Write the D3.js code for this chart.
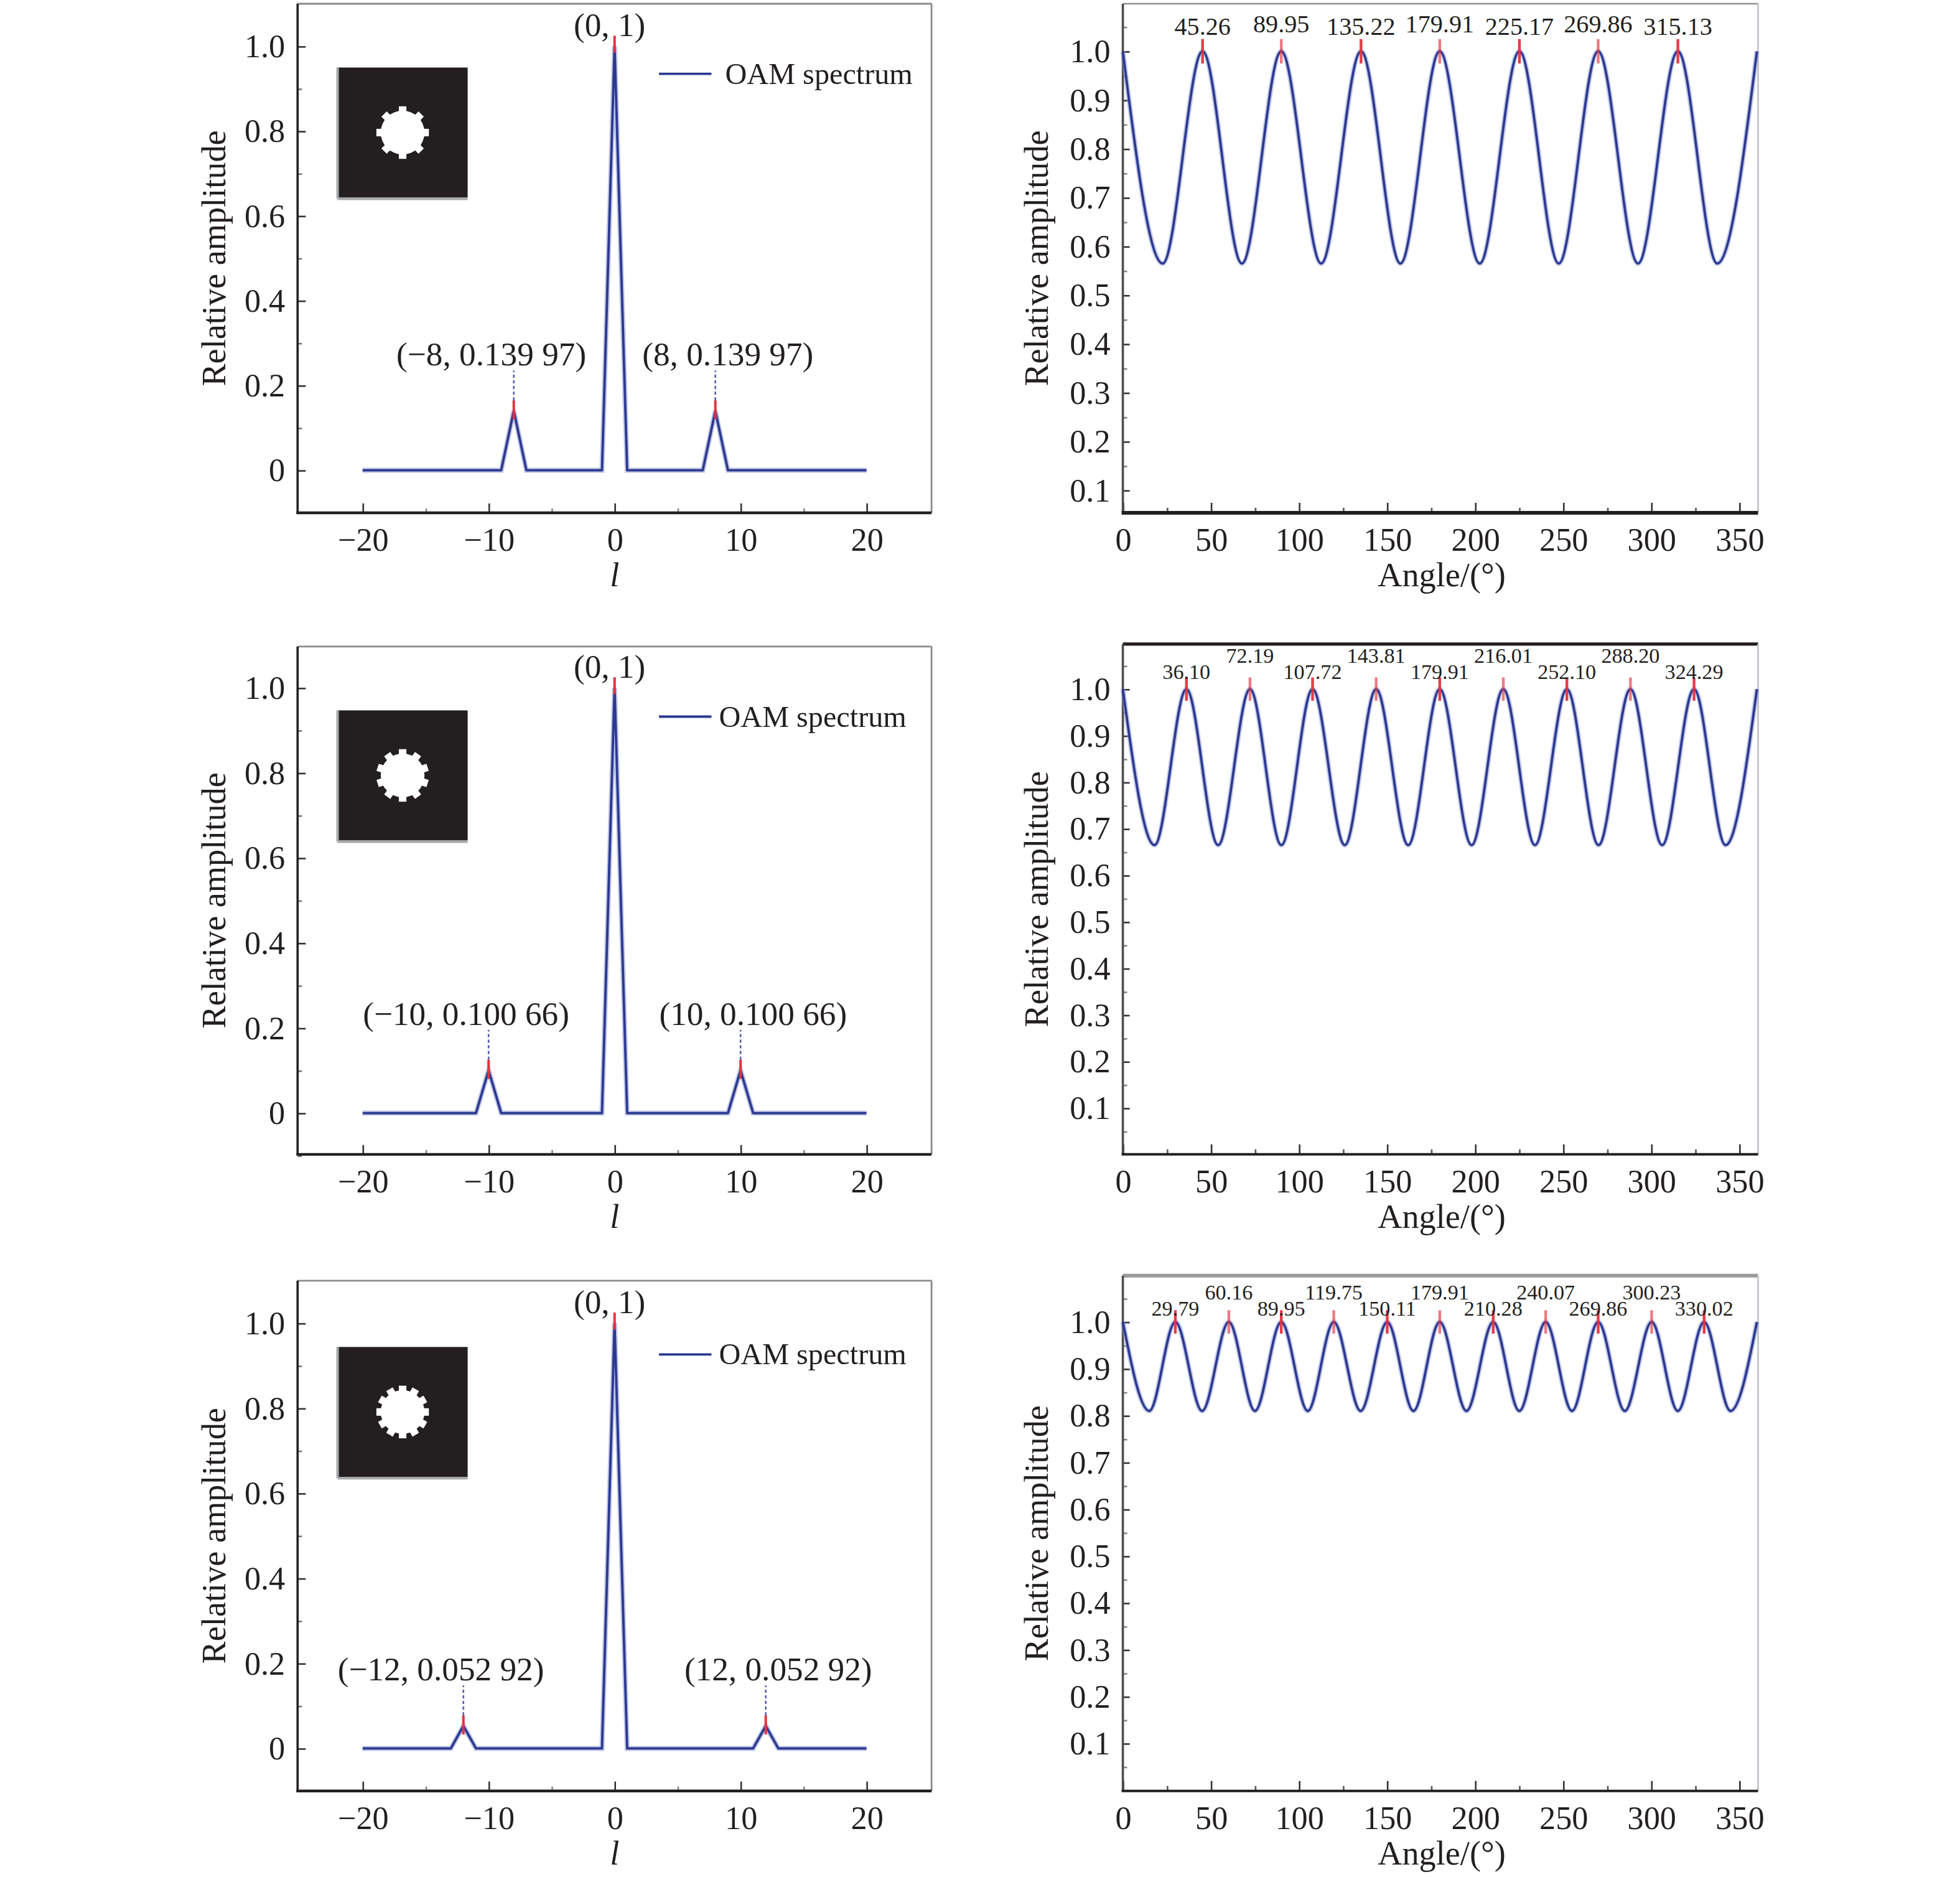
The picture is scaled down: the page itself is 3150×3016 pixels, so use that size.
<!DOCTYPE html>
<html>
<head>
<meta charset="utf-8">
<script src="https://cdn.jsdelivr.net/npm/d3@7/dist/d3.min.js"></script>
<style>
  body { margin: 0; background: #fff; }
  svg { display: block; }
  text { font-family: "Liberation Serif", "Times New Roman", serif; fill: #231f20; }
</style>
</head>
<body>
<svg id="chart"></svg>
<script>
// ---- data ----
const orders = d3.range(-20, 21); // l = -20 .. 20

// OAM spectra (relative amplitude per order l)
const spec8 = [0,0,0,0,0,0,0,0,0,0, 0,0,0.13997,0,0,0,0,0,0,0, 1, 0,0,0,0,0,0,0,0.13997,0,0, 0,0,0,0,0,0,0,0,0,0];
const spec10 = [0,0,0,0,0,0,0,0,0,0, 0.10066,0,0,0,0,0,0,0,0,0, 1, 0,0,0,0,0,0,0,0,0,0.10066, 0,0,0,0,0,0,0,0,0,0];
const spec12 = [0,0,0,0,0,0,0,0,0.05292,0, 0,0,0,0,0,0,0,0,0,0, 1, 0,0,0,0,0,0,0,0,0,0, 0,0.05292,0,0,0,0,0,0,0,0];

// angular amplitude: peak angles (amplitude 1.0) and trough angles
const peaks8 = [0, 45.26, 89.95, 135.22, 179.91, 225.17, 269.86, 315.13, 360];
const troughs8 = [22.6, 67.6, 112.6, 157.6, 202.6, 247.5, 292.5, 337.5];
const troughAmp8 = 0.565;

const peaks10 = [0, 36.10, 72.19, 107.72, 143.81, 179.91, 216.01, 252.10, 288.20, 324.29, 360];
const troughs10 = [18.0, 54.1, 90.0, 126.0, 162.0, 198.0, 234.0, 270.1, 306.2, 342.2];
const troughAmp10 = 0.665;

const peaks12 = [0, 29.79, 60.16, 89.95, 119.75, 150.11, 179.91, 210.28, 240.07, 269.86, 300.23, 330.02, 360];
const troughs12 = [15.0, 45.0, 75.0, 105.0, 135.0, 165.0, 195.1, 225.1, 255.0, 285.0, 315.1, 345.0];
const troughAmp12 = 0.81;
const peakAmp = 1.0;

const lTicks = [-20, -10, 0, 10, 20];
const angleTicks = [0, 50, 100, 150, 200, 250, 300, 350];

// ---- layout (figure units, scaled up by the viewBox) ----
const W = 1567.5, H = 1500.8;
const rows = [
  { spec: spec8, peaks: peaks8, troughs: troughs8, tAmp: troughAmp8,
    lTop: 3, lBot: 410, lY0: 376, lY1: 37,
    rTop: 3, rBot: 410, rY01: 392, rY10: 41,
    lift: [13, 15], peakFont: 20, topCol: "#8f8f8f", topW: 1.2, botW: 3 },
  { spec: spec10, peaks: peaks10, troughs: troughs10, tAmp: troughAmp10,
    lTop: 517, lBot: 923, lY0: 890, lY1: 550,
    rTop: 515, rBot: 923, rY01: 886, rY10: 551,
    lift: [8, 21], peakFont: 17, topCol: "#231f20", topW: 2.6, botW: 2 },
  { spec: spec12, peaks: peaks12, troughs: troughs12, tAmp: troughAmp12,
    lTop: 1024, lBot: 1432, lY0: 1398, lY1: 1058,
    rTop: 1020, rBot: 1432, rY01: 1394, rY10: 1057,
    lift: [5, 18], peakFont: 17, topCol: "#9b9b9b", topW: 3, botW: 2 }
];
const L = { x0: 238, x1: 745, xa: 290, xb: 693 };
const R = { x0: 898, x1: 1406, xb: 1391 };

const blue = "#2b3990", halo = "#8e97d1", red = "#e5323f", ink = "#231f20";

const svg = d3.select("#chart")
  .attr("width", 3150).attr("height", 3016)
  .attr("viewBox", [0, 0, W, H])
  .attr("preserveAspectRatio", "none");

const fmtAmp = v => {
  if (v === 1) return "1";
  const s = d3.format(".5f")(v);
  return s.slice(0, 5) + " " + s.slice(5);
};
const fmtL = d3.format("d");

function styleAxis(g, col) {
  g.select(".domain").remove();
  g.selectAll(".tick line").attr("stroke", col).attr("stroke-width", 1.3);
  g.selectAll(".tick text").attr("font-size", 26).style("font-family", "Liberation Serif, serif").attr("fill", ink);
}

function frame(g, x0, x1, top, bot, opts) {
  g.append("line").attr("x1", x0).attr("x2", x1).attr("y1", top).attr("y2", top)
    .attr("stroke", opts.topCol).attr("stroke-width", opts.topW);
  g.append("line").attr("x1", x1).attr("x2", x1).attr("y1", top).attr("y2", bot)
    .attr("stroke", opts.rightCol).attr("stroke-width", 1.4);
  g.append("line").attr("x1", x0).attr("x2", x0).attr("y1", top).attr("y2", bot)
    .attr("stroke", opts.leftCol).attr("stroke-width", 1.8);
  g.append("line").attr("x1", x0 - 1).attr("x2", x1).attr("y1", bot).attr("y2", bot)
    .attr("stroke", ink).attr("stroke-width", opts.botW);
}

rows.forEach((r, ri) => {
  // ================= left: OAM spectrum =================
  const gl = svg.append("g");
  const x = d3.scaleLinear([-20, 20], [L.xa, L.xb]);
  const y = d3.scaleLinear([0, 1], [r.lY0, r.lY1]);

  gl.append("g").attr("transform", `translate(${L.x0},0)`)
    .call(d3.axisLeft(y).tickValues([-0.1, 0.1, 0.3, 0.5, 0.7, 0.9]).tickSize(-3.5).tickFormat(""))
    .call(g => styleAxis(g, "#777"));
  gl.append("g").attr("transform", `translate(${L.x0},0)`)
    .call(d3.axisLeft(y).tickValues([0, 0.2, 0.4, 0.6, 0.8, 1.0]).tickSize(-6.5).tickPadding(10)
      .tickFormat(d => d === 0 ? "0" : d3.format(".1f")(d)))
    .call(g => styleAxis(g, "#333"));
  gl.append("g").attr("transform", `translate(0,${r.lBot})`)
    .call(d3.axisBottom(x).tickValues([-15, -5, 5, 15]).tickSize(-3.5).tickFormat(""))
    .call(g => styleAxis(g, "#888"));
  gl.append("g").attr("transform", `translate(0,${r.lBot})`)
    .call(d3.axisBottom(x).tickValues(lTicks).tickSize(-7.5).tickPadding(12))
    .call(g => styleAxis(g, "#333"));

  frame(gl, L.x0, L.x1, r.lTop, r.lBot,
    { topCol: "#8a8a8a", topW: 1.4, rightCol: "#8a8a8a", leftCol: ink, botW: 2.2 });

  // inset: binary mask of the aperture
  const order = orders.find((l, i) => l > 0 && r.spec[i] > 0);
  const ix = 270, iy = r.lTop + 51 + (ri === 2 ? 2 : 0), is = 104;
  gl.append("rect").attr("x", ix).attr("y", iy).attr("width", is).attr("height", is).attr("fill", ink);
  gl.append("line").attr("x1", ix).attr("x2", ix).attr("y1", iy).attr("y2", iy + is + 1)
    .attr("stroke", "#a7a9ac").attr("stroke-width", 2);
  gl.append("line").attr("x1", ix).attr("x2", ix + is).attr("y1", iy + is + 1).attr("y2", iy + is + 1)
    .attr("stroke", "#a7a9ac").attr("stroke-width", 2);
  const gear = gl.append("g").attr("transform", `translate(${ix + is / 2},${iy + is / 2})`);
  gear.append("circle").attr("r", 17.5).attr("fill", "#fff");
  gear.selectAll("rect").data(d3.range(order)).join("rect")
    .attr("x", -3).attr("y", -21).attr("width", 6).attr("height", 6).attr("fill", "#fff")
    .attr("transform", d => `rotate(${d * 360 / order})`);

  // spectrum line
  const pts = orders.map((l, i) => [l, r.spec[i]]);
  const line = d3.line().x(d => x(d[0])).y(d => y(d[1]));
  gl.append("path").attr("d", line(pts)).attr("fill", "none")
    .attr("stroke", halo).attr("stroke-width", 4).attr("stroke-opacity", 0.55);
  gl.append("path").attr("d", line(pts)).attr("fill", "none")
    .attr("stroke", blue).attr("stroke-width", 1.9).attr("stroke-linejoin", "round");

  // data tips
  const tips = pts.filter(d => d[1] > 0);
  tips.forEach(([l, v]) => {
    const lo = v === 1 ? 0.985 : v - 0.02, hi = v + 0.025;
    gl.append("line").attr("x1", x(l)).attr("x2", x(l)).attr("y1", y(lo)).attr("y2", y(hi))
      .attr("stroke", red).attr("stroke-width", 2);
    let tx = x(l), ty = y(1) - 8;
    if (v < 1) {
      gl.append("line").attr("x1", x(l)).attr("x2", x(l)).attr("y1", y(hi)).attr("y2", y(v + 0.095))
        .attr("stroke", "#5560b0").attr("stroke-width", 1.3).attr("stroke-dasharray", "2.5,2");
      tx = x(l) + (l < 0 ? -18 : 10);
      ty = y(v + 0.095) - 4;
    } else {
      tx = x(l) - 4;
    }
    gl.append("text").attr("x", tx).attr("y", ty).attr("text-anchor", "middle")
      .attr("font-size", 26.5).text(`(${fmtL(l)}, ${fmtAmp(v)})`);
  });

  // legend
  const ly = r.lTop + 56 + (ri === 2 ? 3 : 0);
  gl.append("line").attr("x1", 527).attr("x2", 569).attr("y1", ly).attr("y2", ly)
    .attr("stroke", blue).attr("stroke-width", 1.9);
  gl.append("text").attr("x", ri === 0 ? 580 : 575).attr("y", ly + 8).attr("font-size", 24).text("OAM spectrum");

  // axis titles
  const lyMid = (r.lTop + r.lBot) / 2;
  gl.append("text").attr("transform", `translate(180,${lyMid}) rotate(-90)`)
    .attr("text-anchor", "middle").attr("font-size", 27).text("Relative amplitude");
  gl.append("text").attr("x", x(0)).attr("y", r.lBot + 59).attr("text-anchor", "middle")
    .attr("font-size", 27).attr("font-style", "italic").text("l");

  // ================= right: angular amplitude =================
  const gr = svg.append("g");
  const xa = d3.scaleLinear([0, 350], [R.x0, R.xb]);
  const ya = d3.scaleLinear([0.1, 1.0], [r.rY01, r.rY10]);
  const inside = v => ya(v) < r.rBot - 2 && ya(v) > r.rTop + 2;

  gr.append("g").attr("transform", `translate(${R.x0},0)`)
    .call(d3.axisLeft(ya).tickValues(d3.range(0.05, 1.1, 0.1).filter(inside)).tickSize(-3.5).tickFormat(""))
    .call(g => styleAxis(g, "#888"));
  gr.append("g").attr("transform", `translate(${R.x0},0)`)
    .call(d3.axisLeft(ya).tickValues(d3.range(0.1, 1.01, 0.1)).tickSize(-5.5).tickPadding(10)
      .tickFormat(d3.format(".1f")))
    .call(g => styleAxis(g, "#333"));
  gr.append("g").attr("transform", `translate(0,${r.rBot})`)
    .call(d3.axisBottom(xa).tickValues(d3.range(25, 360, 50)).tickSize(-4).tickFormat(""))
    .call(g => styleAxis(g, "#555"));
  gr.append("g").attr("transform", `translate(0,${r.rBot})`)
    .call(d3.axisBottom(xa).tickValues(angleTicks).tickSize(-8).tickPadding(12))
    .call(g => styleAxis(g, "#333"));

  frame(gr, R.x0, R.x1, r.rTop, r.rBot,
    { topCol: r.topCol, topW: r.topW, rightCol: "#c4c6cc", leftCol: "#4d4d4d", botW: r.botW });

  // curve through peaks and troughs
  const curvePts = r.peaks.map(a => [a, peakAmp])
    .concat(r.troughs.map(a => [a, r.tAmp]))
    .sort((a, b) => a[0] - b[0]);
  const aLine = d3.line().x(d => xa(d[0])).y(d => ya(d[1])).curve(d3.curveMonotoneX);
  gr.append("path").attr("d", aLine(curvePts)).attr("fill", "none")
    .attr("stroke", halo).attr("stroke-width", 4).attr("stroke-opacity", 0.5);
  gr.append("path").attr("d", aLine(curvePts)).attr("fill", "none")
    .attr("stroke", blue).attr("stroke-width", 1.9);

  // peak markers and labels
  const labelled = r.peaks.filter(a => a > 0 && a < 360);
  labelled.forEach((a, i) => {
    gr.append("line").attr("x1", xa(a)).attr("x2", xa(a)).attr("y1", ya(0.975)).attr("y2", ya(1.025))
      .attr("stroke", red).attr("stroke-width", 2.2).attr("stroke-opacity", i % 2 ? 0.65 : 0.95);
    gr.append("text").attr("x", xa(a)).attr("y", ya(1) - r.lift[i % 2])
      .attr("text-anchor", "middle").attr("font-size", r.peakFont).text(d3.format(".2f")(a));
  });

  const ryMid = (r.rTop + r.rBot) / 2;
  gr.append("text").attr("transform", `translate(838,${ryMid}) rotate(-90)`)
    .attr("text-anchor", "middle").attr("font-size", 27).text("Relative amplitude");
  gr.append("text").attr("x", 1153).attr("y", r.rBot + 59).attr("text-anchor", "middle")
    .attr("font-size", 27).text("Angle/(°)");
});
</script>
</body>
</html>
